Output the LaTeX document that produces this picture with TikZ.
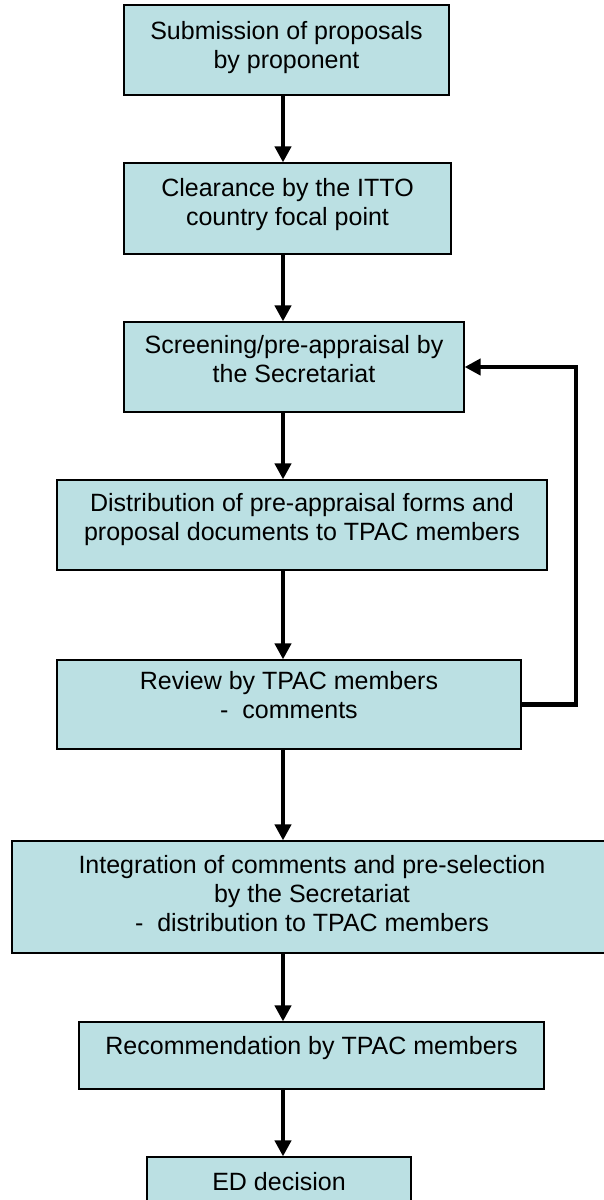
\documentclass[tikz,border=0pt]{standalone}
\usepackage{fontspec}
\setmainfont{Liberation Sans}
\usetikzlibrary{arrows.meta}
\definecolor{boxfill}{HTML}{BBE0E3}
\newcommand\tstrut{\rule{0pt}{18pt}}
\newcommand\bstrut{\rule[-6pt]{0pt}{6pt}}
\begin{document}
\begin{tikzpicture}[x=1pt,y=-1pt,
  box/.style={draw=black, line width=1.2pt, fill=boxfill, inner sep=0pt},
  txt/.style={align=center, font=\fontsize{25}{29}\selectfont, inner sep=0pt},
  arr/.style={line width=4.8pt, -{Triangle[width=16pt,length=16pt]}}]
\useasboundingbox (0,0) rectangle (603,1200);
% boxes
\node[box, minimum width=325pt, minimum height=90pt] (b1) at (286.5,50) {};
\node[box, minimum width=327pt, minimum height=91pt] (b2) at (287.5,208.5) {};
\node[box, minimum width=340pt, minimum height=90pt] (b3) at (294,367) {};
\node[box, minimum width=490pt, minimum height=90pt] (b4) at (302,525) {};
\node[box, minimum width=464pt, minimum height=89pt] (b5) at (289,704.5) {};
\node[box, minimum width=613pt, minimum height=112pt] (b6) at (318.5,897) {};
\node[box, minimum width=465pt, minimum height=67pt] (b7) at (311.5,1055.5) {};
\node[box, minimum width=264pt, minimum height=70pt] (b8) at (279,1192) {};
% texts
\node[txt] (t1) at (286.5,47.8) {\tstrut Submission of proposals\\by proponent\bstrut};
\node[txt] (t2) at (287.5,205.2) {\tstrut Clearance by the ITTO\\country focal point\bstrut};
\node[txt] (t3) at (294,361.5) {\tstrut Screening/pre-appraisal by\\the Secretariat\bstrut};
\node[txt] (t4) at (302,519.5) {\tstrut Distribution of pre-appraisal forms and\\proposal documents to TPAC members\bstrut};
\node[txt] (t5) at (289,698) {\tstrut Review by TPAC members\\-\ \ comments\bstrut};
\node[txt] (t6) at (312,896) {\tstrut Integration of comments and pre-selection\\by the Secretariat\\-\ \ distribution to TPAC members\bstrut};
\node[txt] (t7) at (311.5,1048) {\tstrut Recommendation by TPAC members\bstrut};
\node[txt] (t8) at (279,1184.7) {\tstrut ED decision\bstrut};
% connectors
\coordinate (ax) at (283,0);
\coordinate (lp) at (576,0);
\draw[arr] (b1.south -| ax) -- (b2.north -| ax);
\draw[arr] (b2.south -| ax) -- (b3.north -| ax);
\draw[arr] (b3.south -| ax) -- (b4.north -| ax);
\draw[arr] (b4.south -| ax) -- (b5.north -| ax);
\draw[arr] (b5.south -| ax) -- (b6.north -| ax);
\draw[arr] (b6.south -| ax) -- (b7.north -| ax);
\draw[arr] (b7.south -| ax) -- (b8.north -| ax);
\draw[arr] (b5.east) -- (b5.east -| lp) -- (b3.east -| lp) -- (b3.east);
\end{tikzpicture}
\end{document}
